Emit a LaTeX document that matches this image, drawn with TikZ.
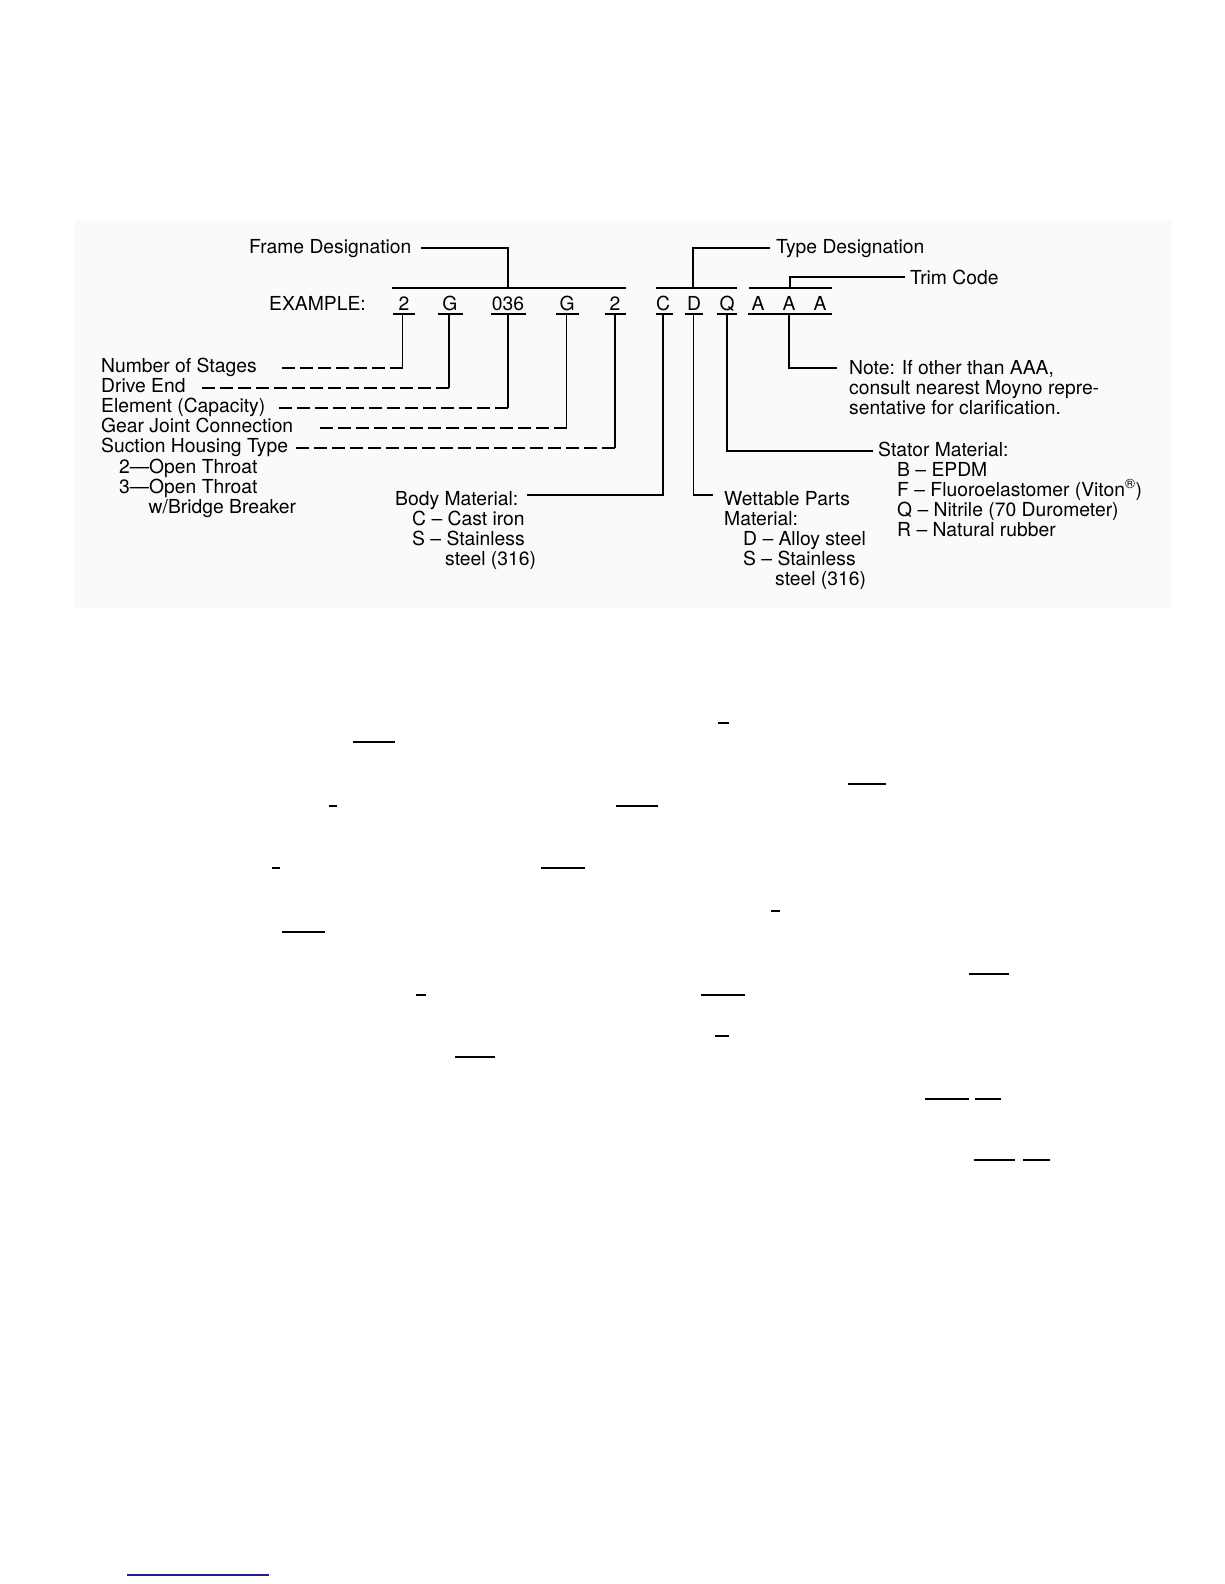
\documentclass[tikz,border=0pt]{standalone}
\usepackage{fontspec}
\setmainfont{TeX Gyre Heros}
\newcommand\lbfont{\fontsize{19.3}{20}\selectfont}
\definecolor{linknavy}{HTML}{1F1F8F}
\tikzset{
  lbl/.style={anchor=base west, inner sep=0pt, font=\lbfont},
  chr/.style={anchor=base, inner sep=0pt, font=\lbfont},
  conn/.style={line width=1.5pt},
  dashconn/.style={line width=1.6pt, dash pattern=on 13pt off 5pt},
  ul/.style={line width=1.6pt},
  stray/.style={line width=2.6pt},
}
\begin{document}
\begin{tikzpicture}[x=1pt,y=-1pt]
\path[fill=white, use as bounding box] (0,0) rectangle (1224,1584);
\fill[black!2] (75,220) rectangle (1172,608);

% ---------- header labels ----------
\node[lbl] (fd) at (249,253.5) {Frame Designation};
\node[lbl] (td) at (776,253.5) {Type Designation};
\node[lbl] (tc) at (910,284) {Trim Code};
\node[lbl] (ex) at (269,310) {EXAMPLE:};

% ---------- code characters ----------
\node[chr] (c1) at (404,310) {2};
\node[chr] (c2) at (450,310) {G};
\node[chr] (c3) at (508,310) {036};
\node[chr] (c4) at (567,310) {G};
\node[chr] (c5) at (615,310) {2};
\node[chr] (c6) at (663,310) {C};
\node[chr] (c7) at (694,310) {D};
\node[chr] (c8) at (727,310) {Q};
\node[chr] (c9) at (758,310) {A};
\node[chr] (c10) at (789,310) {A};
\node[chr] (c11) at (820,310) {A};

% underlines
\draw[ul] (393,314) -- (415,314);
\draw[ul] (438,314) -- (463,314);
\draw[ul] (491,314) -- (526,314);
\draw[ul] (556,314) -- (579,314);
\draw[ul] (605,314) -- (626,314);
\draw[ul] (656,314) -- (673,314);
\draw[ul] (685,314) -- (703,314);
\draw[ul] (717,314) -- (737,314);
\draw[ul] (748,314) -- (832,314);

% group bars
\draw[ul] (392,288) -- (626,288);
\draw[ul] (656,288) -- (737,288);
\draw[ul] (749,288) -- (832,288);

% header connectors
\coordinate (fdE) at (421,248);
\coordinate (fdj) at (508,288);
\draw[conn] (fdE) -| (fdj);
\coordinate (tdj) at (693,288);
\coordinate (tdE) at (770,248);
\draw[conn] (tdj) |- (tdE);
\coordinate (tcj) at (790,288);
\coordinate (tcE) at (905,277);
\draw[conn] (tcj) |- (tcE);

% ---------- left labels ----------
\node[lbl] (ns) at (101,372.5) {Number of Stages};
\node[lbl] (de) at (101,392.6) {Drive End};
\node[lbl] (el) at (101,412.7) {Element (Capacity)};
\node[lbl] (gj) at (101,432.8) {Gear Joint Connection};
\node[lbl] (sh) at (101,452.9) {Suction Housing Type};
\node[lbl] (sh1) at (119,473) {2—Open Throat};
\node[lbl] (sh2) at (119,493) {3—Open Throat};
\node[lbl] (sh3) at (148.5,513) {w/Bridge Breaker};

% left connectors
\coordinate (u1) at (402.5,314); \coordinate (k1) at (402.5,368); \coordinate (s1) at (281.5,368);
\coordinate (u2) at (449,314);   \coordinate (k2) at (449,388);   \coordinate (s2) at (202,388);
\coordinate (u3) at (508,314);   \coordinate (k3) at (508,408);   \coordinate (s3) at (279,408);
\coordinate (u4) at (566.5,314); \coordinate (k4) at (566.5,428); \coordinate (s4) at (319.5,428);
\coordinate (u5) at (615,314);   \coordinate (k5) at (615,448);   \coordinate (s5) at (296,448);
\draw[conn] (u1) -- (k1); \draw[dashconn] (k1) -- (s1);
\draw[conn] (u2) -- (k2); \draw[dashconn] (k2) -- (s2);
\draw[conn] (u3) -- (k3); \draw[dashconn] (k3) -- (s3);
\draw[conn] (u4) -- (k4); \draw[dashconn] (k4) -- (s4);
\draw[conn] (u5) -- (k5); \draw[dashconn] (k5) -- (s5);

% ---------- body material ----------
\node[lbl] (bm) at (395,505) {Body Material:};
\node[lbl] (bm1) at (412,525) {C -- Cast iron};
\node[lbl] (bm2) at (412,545) {S -- Stainless};
\node[lbl] (bm3) at (445,565) {steel (316)};
\coordinate (u6) at (663,314); \coordinate (k6) at (663,495); \coordinate (s6) at (527,495);
\draw[conn] (u6) -- (k6) -- (s6);

% ---------- wettable parts ----------
\node[lbl] (wp) at (724,505) {Wettable Parts};
\node[lbl] (wp0) at (724,525) {Material:};
\node[lbl] (wp1) at (743,545) {D -- Alloy steel};
\node[lbl] (wp2) at (743,565) {S -- Stainless};
\node[lbl] (wp3) at (775,585) {steel (316)};
\coordinate (u7) at (693.3,314); \coordinate (k7) at (693.3,495); \coordinate (s7) at (713,495);
\draw[conn] (u7) -- (k7) -- (s7);

% ---------- stator material ----------
\node[lbl] (sm) at (878,456) {Stator Material:};
\node[lbl] (sm1) at (897,476) {B -- EPDM};
\node[lbl] (sm2) at (897,496) {F -- Fluoroelastomer (Viton\textsuperscript{®})};
\node[lbl] (sm3) at (897,516) {Q -- Nitrile (70 Durometer)};
\node[lbl] (sm4) at (897,536) {R -- Natural rubber};
\coordinate (u8) at (727,314); \coordinate (k8) at (727,451); \coordinate (s8) at (873,451);
\draw[conn] (u8) -- (k8) -- (s8);

% ---------- note ----------
\node[lbl] (nt1) at (849,374.5) {Note: If other than AAA,};
\node[lbl] (nt2) at (849,394.5) {consult nearest Moyno repre-};
\node[lbl] (nt3) at (849,414.5) {sentative for clarification.};
\coordinate (u10) at (789,314); \coordinate (k10) at (789,368); \coordinate (s10) at (837,368);
\draw[conn] (u10) -- (k10) -- (s10);

% ---------- stray marks below ----------
\draw[stray] (718,723) -- (729,723);
\draw[stray] (353,742) -- (395,742);
\draw[stray] (329,806) -- (337,806);
\draw[stray] (616,806) -- (658,806);
\draw[stray] (848,784) -- (886,784);
\draw[stray] (272,868) -- (280,868);
\draw[stray] (541,868) -- (585,868);
\draw[stray] (771,911) -- (780,911);
\draw[stray] (282,932) -- (325,932);
\draw[stray] (416,995) -- (426,995);
\draw[stray] (969,974) -- (1009,974);
\draw[stray] (701,995) -- (745,995);
\draw[stray] (715,1036) -- (729,1036);
\draw[stray] (455,1057) -- (495,1057);
\draw[stray] (925,1099) -- (969,1099);
\draw[stray] (975,1099) -- (1001,1099);
\draw[stray] (973.5,1160) -- (1015,1160);
\draw[stray] (1023,1160) -- (1050,1160);
\draw[line width=1.5pt, linknavy] (127,1575) -- (269,1575);
\end{tikzpicture}
\end{document}
